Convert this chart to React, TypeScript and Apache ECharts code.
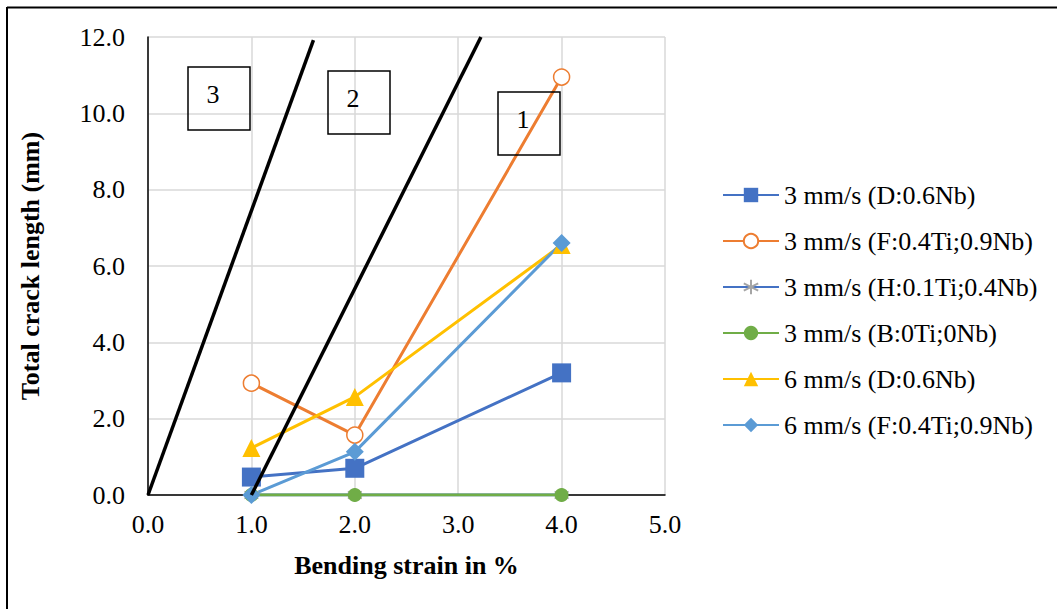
import React, { useEffect, useRef } from "react";
import * as echarts from "echarts";

const strain = [1.0, 2.0, 4.0];
const s3D = [0.47, 0.7, 3.2];
const s3F = [2.93, 1.57, 10.95];
const s3H = [0, 0, 0];
const s3B = [0, 0, 0];
const s6D = [1.23, 2.57, 6.55];
const s6F = [0, 1.13, 6.6];
const names = [
  "3 mm/s (D:0.6Nb)",
  "3 mm/s (F:0.4Ti;0.9Nb)",
  "3 mm/s (H:0.1Ti;0.4Nb)",
  "3 mm/s (B:0Ti;0Nb)",
  "6 mm/s (D:0.6Nb)",
  "6 mm/s (F:0.4Ti;0.9Nb)",
];
const boundary3 = [[0, 0], [1.6, 11.92]];
const boundary2 = [[1.0, 0], [3.22, 12.0]];
const regionLabels = ["3", "2", "1"];

const FONT = "'Liberation Serif', 'Times New Roman', serif";
const FS = 26;

function pts(ys: number[]) {
  return ys.map((y, i) => [strain[i], y]);
}

export default function App() {
  const ref = useRef<HTMLDivElement>(null);
  useEffect(() => {
    document.body.style.margin = "0";
    const chart = echarts.init(ref.current!, null, { renderer: "svg" });
    const star = "path://M0,-10L0,10M-8.66,-5L8.66,5M-8.66,5L8.66,-5";
    const boxes = [
      { x: 188, y: 67 },
      { x: 328, y: 71 },
      { x: 498, y: 92 },
    ];
    const graphic: any[] = [
      { type: "line", shape: { x1: 7, y1: 7.5, x2: 1057, y2: 7.5 }, style: { stroke: "#000", lineWidth: 2 } },
      { type: "line", shape: { x1: 7, y1: 7, x2: 7, y2: 609 }, style: { stroke: "#000", lineWidth: 2 } },
    ];
    boxes.forEach((b, i) => {
      graphic.push({
        type: "rect",
        shape: { x: b.x, y: b.y, width: 62, height: 63 },
        style: { fill: "none", stroke: "#000", lineWidth: 1.5 },
        z: 100,
      });
      graphic.push({
        type: "text",
        x: b.x + 25,
        y: b.y + 27,
        style: {
          text: regionLabels[i],
          font: `${FS}px ${FONT}`,
          fill: "#000",
          textAlign: "center",
          textVerticalAlign: "middle",
        },
        z: 100,
      });
    });
    const lw = 3;
    chart.setOption({
      animation: false,
      backgroundColor: "#fff",
      textStyle: { fontFamily: FONT },
      grid: { left: 148, right: 392, top: 37, bottom: 114 },
      xAxis: {
        type: "value",
        min: 0,
        max: 5,
        interval: 1,
        name: "Bending strain in %",
        nameLocation: "middle",
        nameGap: 57,
        nameTextStyle: { fontFamily: FONT, fontSize: FS, fontWeight: "bold", color: "#000" },
        axisLine: { lineStyle: { color: "#000", width: 1.5 } },
        axisTick: { show: false },
        axisLabel: { fontFamily: FONT, fontSize: FS, color: "#000", margin: 16, formatter: (v: number) => v.toFixed(1) },
        splitLine: { lineStyle: { color: "#d9d9d9", width: 1.5 } },
      },
      yAxis: {
        type: "value",
        min: 0,
        max: 12,
        interval: 2,
        name: "Total crack length (mm)",
        nameLocation: "middle",
        nameGap: 105,
        nameTextStyle: { fontFamily: FONT, fontSize: FS, fontWeight: "bold", color: "#000" },
        axisLine: { show: true, lineStyle: { color: "#000", width: 1.5 } },
        axisTick: { show: false },
        axisLabel: { fontFamily: FONT, fontSize: FS, color: "#000", margin: 23, formatter: (v: number) => v.toFixed(1) },
        splitLine: { lineStyle: { color: "#d9d9d9", width: 1.5 } },
      },
      legend: {
        orient: "vertical",
        left: 717,
        top: 177,
        itemWidth: 56,
        itemHeight: 18,
        itemGap: 20,
        data: names,
        textStyle: { fontFamily: FONT, fontSize: FS, color: "#000" },
      },
      series: [
        {
          name: names[0], type: "line", data: pts(s3D), symbol: "rect", symbolSize: 19,
          lineStyle: { color: "#4472C4", width: lw }, itemStyle: { color: "#4472C4" }, z: 2,
        },
        {
          name: names[1], type: "line", data: pts(s3F), symbol: "circle", symbolSize: 16,
          lineStyle: { color: "#ED7D31", width: lw }, itemStyle: { color: "#fff", borderColor: "#ED7D31", borderWidth: 1.5 }, z: 2,
        },
        {
          name: names[2], type: "line", data: pts(s3H), symbol: star, symbolSize: 14,
          lineStyle: { color: "#4472C4", width: lw }, itemStyle: { color: "none", borderColor: "#A5A5A5", borderWidth: 1.5 }, z: 2,
        },
        {
          name: names[3], type: "line", data: pts(s3B), symbol: "circle", symbolSize: 14,
          lineStyle: { color: "#70AD47", width: lw }, itemStyle: { color: "#70AD47" }, z: 2,
        },
        {
          name: names[4], type: "line", data: pts(s6D), symbol: "triangle", symbolSize: 18,
          lineStyle: { color: "#FFC000", width: lw }, itemStyle: { color: "#FFC000" }, z: 2,
        },
        {
          name: names[5], type: "line", data: pts(s6F), symbol: "diamond", symbolSize: 18,
          lineStyle: { color: "#5B9BD5", width: lw }, itemStyle: { color: "#5B9BD5" }, z: 2,
        },
        {
          name: "boundary3", type: "line", data: boundary3, symbol: "none",
          lineStyle: { color: "#000", width: 3.5 }, z: 3,
        },
        {
          name: "boundary2", type: "line", data: boundary2, symbol: "none",
          lineStyle: { color: "#000", width: 3.5 }, z: 3,
        },
      ],
      graphic,
    });
    return () => chart.dispose();
  }, []);
  return <div ref={ref} style={{ width: 1057, height: 609 }} />;
}
